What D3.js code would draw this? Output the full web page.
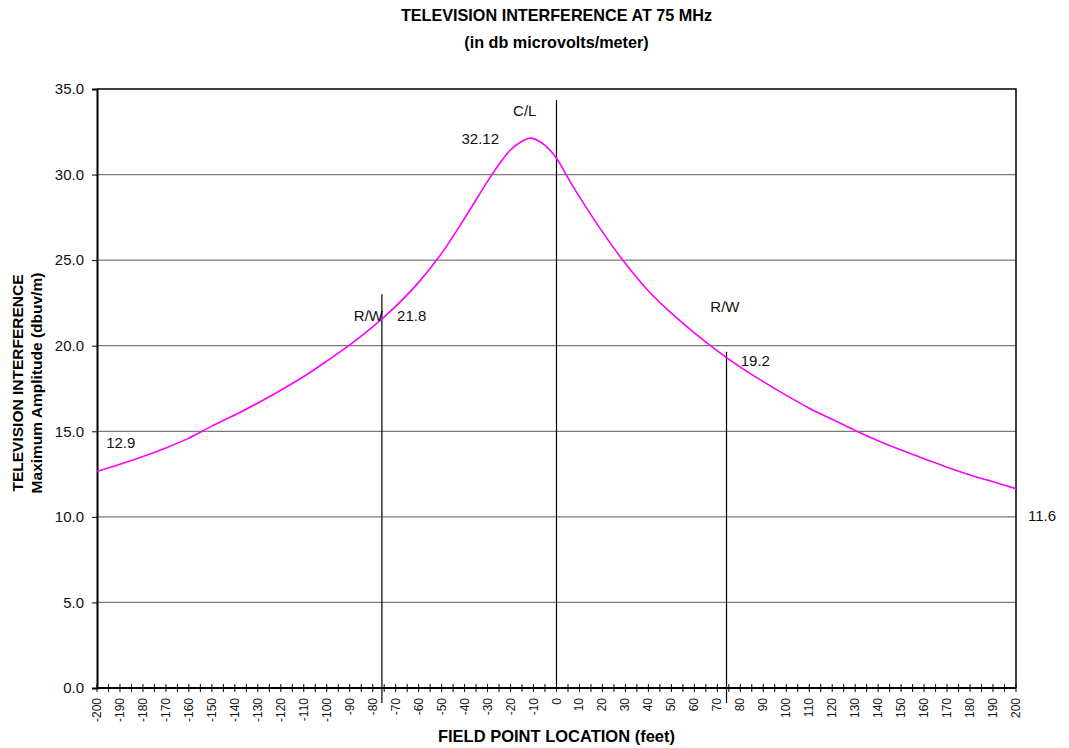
<!DOCTYPE html>
<html>
<head>
<meta charset="utf-8">
<script src="https://cdn.jsdelivr.net/npm/d3@7"></script>
<style>
  body { margin: 0; background: white; }
  svg { font-family: "Liberation Sans", Arial, sans-serif; }
</style>
</head>
<body>
<div id="chart"></div>
<script>
// field point location (feet) and amplitude (dbuv/m)
var locations = [-200, -190, -180, -170, -160, -150, -140, -130, -120, -110, -100, -90, -80, -70, -60, -50, -40, -30, -25, -20, -15, -12, -10, -5, 0, 5, 10, 20, 30, 40, 50, 60, 70, 80, 90, 100, 110, 120, 130, 140, 150, 160, 170, 180, 190, 200];
var amplitudes = [12.65, 13.07, 13.53, 14.03, 14.6, 15.3, 15.95, 16.65, 17.4, 18.2, 19.1, 20.05, 21.1, 22.3, 23.7, 25.4, 27.45, 29.6, 30.6, 31.45, 31.95, 32.12, 32.1, 31.7, 30.95, 29.8, 28.7, 26.65, 24.8, 23.2, 21.9, 20.75, 19.7, 18.75, 17.9, 17.1, 16.35, 15.7, 15.05, 14.45, 13.9, 13.4, 12.9, 12.45, 12.05, 11.65];

// reference lines (right of way, centre line, right of way)
var refX = [-76, 0, 74];
var refTop = [23.0, 34.35, 19.65];

// annotations
var noteText = ["C/L", "32.12", "R/W", "21.8", "R/W", "19.2", "12.9", "11.6"];
var noteX = [-13.8, -25, -75.5, -69.4, 73.3, 80.2, -196, 205.2];
var noteY = [33.4, 31.8, 21.45, 21.45, 21.95, 18.8, 14.0, 9.75];
var noteAnchor = ["middle", "end", "end", "start", "middle", "start", "start", "start"];

var yTicks = [0, 5, 10, 15, 20, 25, 30, 35];

var width = 1069, height = 748,
    margin = {top: 89, right: 53, bottom: 60, left: 97},
    innerW = width - margin.left - margin.right,
    innerH = height - margin.top - margin.bottom;

var svg = d3.select("#chart").append("svg")
    .attr("width", width)
    .attr("height", height);

var g = svg.append("g")
    .attr("transform", "translate(" + margin.left + "," + margin.top + ")");

var x = d3.scaleLinear().domain([-200, 200]).range([0, innerW]);
var y = d3.scaleLinear().domain([0, 35]).range([innerH, 0]);

// gridlines
g.selectAll(".grid")
    .data(yTicks.filter(function (d) { return d > 0 && d < 35; }))
    .enter().append("line")
    .attr("x1", 0).attr("x2", innerW)
    .attr("y1", function (d) { return y(d); })
    .attr("y2", function (d) { return y(d); })
    .attr("stroke", "#7a7a7a")
    .attr("stroke-width", 1.2);

// plot border (top and right)
g.append("path")
    .attr("d", "M0," + y(35) + "H" + innerW + "V" + innerH)
    .attr("fill", "none")
    .attr("stroke", "black")
    .attr("stroke-width", 1.5);

// y axis
var yAxis = g.append("g")
    .call(d3.axisLeft(y).tickValues(yTicks).tickSize(5).tickFormat(d3.format(".1f")));
yAxis.select(".domain").attr("stroke-width", 2);
yAxis.selectAll("text")
    .attr("font-size", 15)
    .attr("fill", "#111")
    .attr("dx", "-5");

// x axis: ticks every 5, labels every 10
var xAxis = g.append("g")
    .attr("transform", "translate(0," + innerH + ")");
xAxis.append("line")
    .attr("x1", 0).attr("x2", innerW)
    .attr("stroke", "black").attr("stroke-width", 2);
xAxis.selectAll(".tick")
    .data(d3.range(-200, 201, 5))
    .enter().append("line")
    .attr("x1", function (d) { return x(d); })
    .attr("x2", function (d) { return x(d); })
    .attr("y1", -4).attr("y2", 4)
    .attr("stroke", "black")
    .attr("stroke-width", 1);
xAxis.selectAll(".lbl")
    .data(d3.range(-200, 201, 10))
    .enter().append("text")
    .attr("transform", function (d) {
        return "translate(" + (x(d) + 4) + ",10) rotate(-90)";
    })
    .attr("text-anchor", "end")
    .attr("font-size", 12)
    .attr("fill", "#111")
    .text(function (d) { return d; });

// reference lines
g.selectAll(".ref")
    .data(refX)
    .enter().append("line")
    .attr("x1", function (d) { return x(d); })
    .attr("x2", function (d) { return x(d); })
    .attr("y1", function (d, i) { return y(refTop[i]); })
    .attr("y2", function (d) { return d === 0 ? innerH : innerH + 15; })
    .attr("stroke", "black")
    .attr("stroke-width", 1.2);

// curve
var line = d3.line()
    .x(function (d) { return x(d[0]); })
    .y(function (d) { return y(d[1]); })
    .curve(d3.curveCatmullRom.alpha(0.5));

g.append("path")
    .datum(d3.zip(locations, amplitudes))
    .attr("d", line)
    .attr("fill", "none")
    .attr("stroke", "#ff00ff")
    .attr("stroke-width", 1.6);

// annotations
g.selectAll(".note")
    .data(noteText)
    .enter().append("text")
    .attr("x", function (d, i) { return x(noteX[i]); })
    .attr("y", function (d, i) { return y(noteY[i]); })
    .attr("text-anchor", function (d, i) { return noteAnchor[i]; })
    .attr("font-size", 15)
    .attr("fill", "#111")
    .text(function (d) { return d; });

// titles
svg.append("text")
    .attr("x", margin.left + innerW / 2)
    .attr("y", 21)
    .attr("text-anchor", "middle")
    .attr("font-size", 16.2)
    .attr("font-weight", "bold")
    .text("TELEVISION INTERFERENCE AT 75 MHz");
svg.append("text")
    .attr("x", margin.left + innerW / 2)
    .attr("y", 48)
    .attr("text-anchor", "middle")
    .attr("font-size", 16.2)
    .attr("font-weight", "bold")
    .text("(in db microvolts/meter)");

svg.append("text")
    .attr("x", margin.left + innerW / 2)
    .attr("y", 742)
    .attr("text-anchor", "middle")
    .attr("font-size", 16.5)
    .attr("font-weight", "bold")
    .text("FIELD POINT LOCATION (feet)");

var yTitle = svg.append("text")
    .attr("transform", "translate(23," + 383 + ") rotate(-90)")
    .attr("text-anchor", "middle")
    .attr("font-size", 15.5)
    .attr("font-weight", "bold");
yTitle.append("tspan").attr("x", 0).attr("dy", 0).text("TELEVISION INTERFERENCE");
yTitle.append("tspan").attr("x", 0).attr("dy", 19).text("Maximum Amplitude (dbuv/m)");
</script>
</body>
</html>
